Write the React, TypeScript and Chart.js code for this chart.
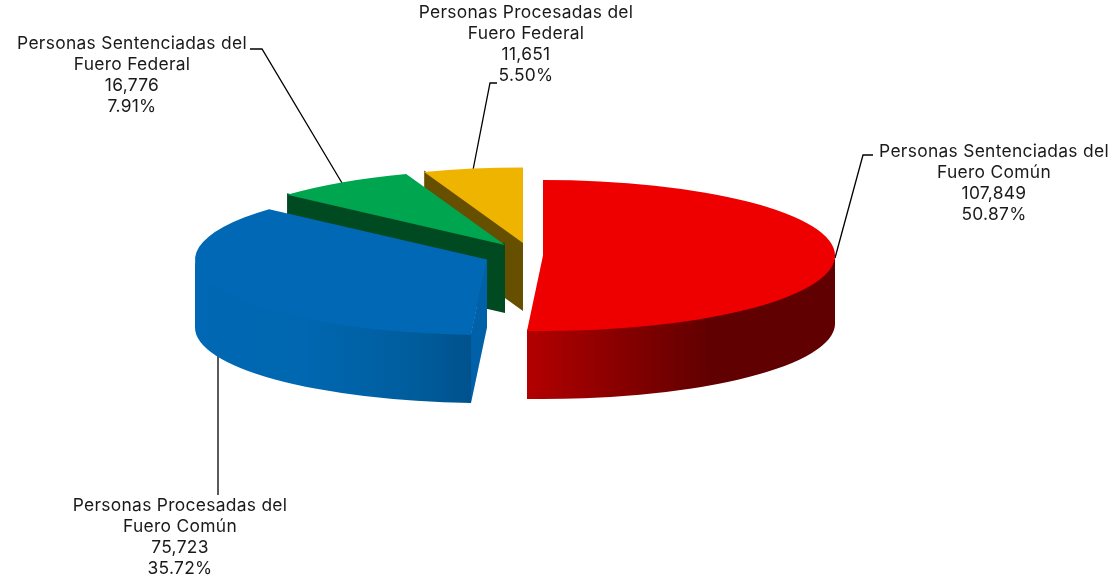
import React, { useEffect, useRef } from "react";
import { Chart, registerables } from "chart.js";

Chart.register(...registerables);

const categories = [
  "Personas Sentenciadas del Fuero Común",
  "Personas Procesadas del Fuero Común",
  "Personas Sentenciadas del Fuero Federal",
  "Personas Procesadas del Fuero Federal",
];
const personas = [107849, 75723, 16776, 11651];

const topColors = ["#EE0000", "#0068B4", "#00A54F", "#EFB400"];
const cutColors = ["#8A0000", "#0060A8", "#004A22", "#665000"];
const wallStops: [number, string][][] = [
  [[0, "#B30000"], [0.3, "#880000"], [0.6, "#600000"], [1, "#600000"]],
  [[0, "#0068B4"], [0.4, "#0067B0"], [0.75, "#005E9F"], [1, "#00528D"]],
  [[0, "#004A22"], [1, "#004A22"]],
  [[0, "#665000"], [1, "#665000"]],
];

// Pie projection: centre of each exploded slice on the page, radius, squash, thickness.
const sliceCentres = [
  { x: 543, y: 255.5 },
  { x: 487, y: 259.5 },
  { x: 505, y: 245 },
  { x: 523, y: 243 },
];
const RX = 292;
const RY = 75.5;
const DEPTH = 68;
const OVERLAP = 1.5;
const paintOrder = [3, 2, 1, 0];

const labelAnchors = [
  { x: 994, y: 152 },
  { x: 180, y: 506 },
  { x: 132, y: 44 },
  { x: 526, y: 13 },
];
const leaders = [
  [[835, 258], [863, 155], [873, 155]],
  [[218, 354], [218, 495]],
  [[342, 183], [262, 49], [250, 49]],
  [[473, 170], [490, 83], [497, 83]],
];
const LINE_H = 21;
const FONT = "400 17.4px Inter";
const LETTER_SPACING = "0.3px";

const pie3d = {
  id: "pie3d",
  beforeDatasetsDraw(chart: any) {
    const { ctx } = chart;
    const arcs = chart.getDatasetMeta(0).data;
    const total = personas.reduce((a, b) => a + b, 0);

    ctx.save();
    ctx.strokeStyle = "#000000";
    ctx.lineWidth = 1.3;
    leaders.forEach((pts) => {
      ctx.beginPath();
      pts.forEach(([x, y], i) => (i ? ctx.lineTo(x, y) : ctx.moveTo(x, y)));
      ctx.stroke();
    });
    ctx.restore();

    paintOrder.forEach((i) => {
      const arc = arcs[i];
      const c = sliceCentres[i];
      const { startAngle, endAngle, outerRadius } = arc.getProps(
        ["startAngle", "endAngle", "outerRadius"],
        true
      );

      // straight cut faces that look toward the viewer
      const cut = (angle: number) => {
        const ex = c.x + Math.cos(angle) * RX;
        const ey = c.y + Math.sin(angle) * RY;
        ctx.beginPath();
        ctx.moveTo(c.x, c.y - OVERLAP);
        ctx.lineTo(ex, ey - OVERLAP);
        ctx.lineTo(ex, ey + DEPTH);
        ctx.lineTo(c.x, c.y + DEPTH);
        ctx.closePath();
        ctx.fillStyle = cutColors[i];
        ctx.fill();
      };
      if (Math.cos(startAngle) < -1e-6) cut(startAngle);
      if (Math.cos(endAngle) > 1e-6) cut(endAngle);

      // curved outer wall (front half only), tucked slightly under the top face
      const lo = Math.max(startAngle, 0);
      const hi = Math.min(endAngle, Math.PI);
      if (hi > lo) {
        const x0 = c.x + Math.cos(hi) * RX;
        const x1 = c.x + Math.cos(lo) * RX;
        const g = ctx.createLinearGradient(x0, 0, x1, 0);
        wallStops[i].forEach(([o, col]) => g.addColorStop(o, col));
        ctx.beginPath();
        ctx.ellipse(c.x, c.y - OVERLAP, RX, RY, 0, lo, hi);
        ctx.lineTo(x0, c.y + Math.sin(hi) * RY + DEPTH);
        ctx.ellipse(c.x, c.y + DEPTH, RX, RY, 0, hi, lo, true);
        ctx.closePath();
        ctx.fillStyle = g;
        ctx.fill();
      }

      // top face: the library's own arc, projected
      ctx.save();
      ctx.translate(c.x, c.y);
      ctx.scale(RX / outerRadius, RY / outerRadius);
      ctx.translate(-arc.x, -arc.y);
      arc.draw(ctx);
      ctx.restore();
    });

    ctx.save();
    ctx.font = FONT;
    (ctx as any).letterSpacing = LETTER_SPACING;
    (ctx as any).fontKerning = "normal";
    ctx.fillStyle = "#1A1A1A";
    ctx.textAlign = "center";
    ctx.textBaseline = "middle";
    categories.forEach((name, i) => {
      const cutAt = name.indexOf(" del ") + 4;
      const lines = [
        name.slice(0, cutAt),
        name.slice(cutAt + 1),
        personas[i].toLocaleString("en-US"),
        ((personas[i] / total) * 100).toFixed(2) + "%",
      ];
      lines.forEach((t, j) => ctx.fillText(t, labelAnchors[i].x, labelAnchors[i].y + j * LINE_H));
    });
    ctx.restore();
    return false;
  },
};

export default function App() {
  const ref = useRef<HTMLCanvasElement>(null);
  useEffect(() => {
    document.body.style.margin = "0";
    const chart = new Chart(ref.current!, {
      type: "pie",
      data: {
        labels: categories,
        datasets: [{ data: personas, backgroundColor: topColors, borderWidth: 0 }],
      },
      options: {
        responsive: false,
        animation: false,
        plugins: { legend: { display: false }, tooltip: { enabled: false } },
      },
      plugins: [pie3d],
    } as any);
    return () => chart.destroy();
  }, []);
  return <canvas ref={ref} width={1114} height={582} style={{ display: "block" }} />;
}
